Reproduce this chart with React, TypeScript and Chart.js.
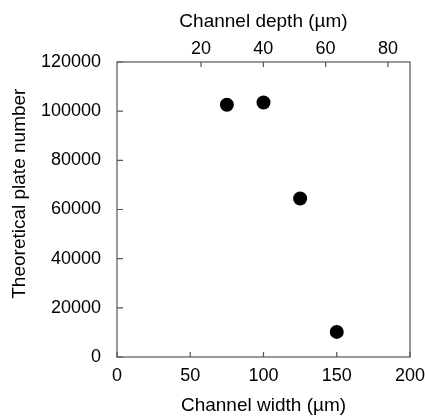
import React, { useEffect, useRef } from "react";
import { Chart, registerables } from "chart.js";

Chart.register(...registerables);

const channelWidth = [75, 100, 125, 150];
const plateNumber = [102600, 103500, 64500, 10200];
const depthTicks = [20, 40, 60, 80];

const FONT = "'Liberation Sans', Arial, sans-serif";
const FRAME = "#555555";
const FS = 18;
const TS = 19;

const framePlugin = {
  id: "frameTicks",
  afterDraw(chart: any) {
    const { ctx, chartArea } = chart;
    const { left, right, top, bottom } = chartArea;
    ctx.save();
    ctx.strokeStyle = FRAME;
    ctx.lineWidth = 1.2;
    ctx.strokeRect(left, top, right - left, bottom - top);
    const x = chart.scales.x;
    const x2 = chart.scales.x2;
    const y = chart.scales.y;
    ctx.beginPath();
    x.ticks.forEach((t: any) => {
      const p = x.getPixelForValue(t.value);
      ctx.moveTo(p, bottom);
      ctx.lineTo(p, bottom - 5);
    });
    x2.ticks.forEach((t: any) => {
      const p = x2.getPixelForValue(t.value);
      ctx.moveTo(p, top);
      ctx.lineTo(p, top + 5);
    });
    y.ticks.forEach((t: any) => {
      const p = y.getPixelForValue(t.value);
      ctx.moveTo(left, p);
      ctx.lineTo(left + 6, p);
    });
    ctx.stroke();
    ctx.restore();
  },
};

export default function App() {
  const ref = useRef<HTMLCanvasElement>(null);
  useEffect(() => {
    if (!ref.current) return;
    const chart = new Chart(ref.current, {
      type: "scatter",
      data: {
        datasets: [
          {
            data: channelWidth.map((w, i) => ({ x: w, y: plateNumber[i] })),
            backgroundColor: "#000000",
            borderColor: "#000000",
            pointRadius: 7,
            pointHoverRadius: 7,
            pointBorderWidth: 0,
          },
        ],
      },
      options: {
        responsive: false,
        animation: false,
        layout: { padding: { left: 0, right: 15, top: 0, bottom: 0 } },
        plugins: { legend: { display: false }, tooltip: { enabled: false } },
        scales: {
          x: {
            type: "linear",
            position: "bottom",
            min: 0,
            max: 200,
            grid: { display: false, drawTicks: false },
            border: { display: false },
            ticks: { stepSize: 50, color: "#000", padding: 8, font: { family: FONT, size: FS } },
            title: {
              display: true,
              text: "Channel width (\u00b5m)",
              color: "#000",
              font: { family: FONT, size: TS },
              padding: { top: 0, bottom: -1 },
            },
            afterFit: (s: any) => {
              s.height = 59;
              s.paddingLeft = 0;
              s.paddingRight = 0;
            },
          },
          x2: {
            type: "linear",
            position: "top",
            min: -7,
            max: 87.1,
            grid: { display: false, drawTicks: false },
            border: { display: false },
            ticks: { color: "#000", padding: 2, font: { family: FONT, size: FS } },
            afterBuildTicks: (s: any) => {
              s.ticks = depthTicks.map((v) => ({ value: v }));
            },
            title: {
              display: true,
              text: "Channel depth (\u00b5m)",
              color: "#000",
              font: { family: FONT, size: TS },
              padding: { top: 10, bottom: 0 },
            },
            afterFit: (s: any) => {
              s.height = 62;
              s.paddingLeft = 0;
              s.paddingRight = 0;
            },
          },
          y: {
            type: "linear",
            min: 0,
            max: 120000,
            grid: { display: false, drawTicks: false },
            border: { display: false },
            ticks: {
              stepSize: 20000,
              color: "#000",
              padding: 16,
              font: { family: FONT, size: FS },
              callback: (v: any) => String(v),
            },
            title: {
              display: true,
              text: "      Theoretical plate number",
              color: "#000",
              font: { family: FONT, size: TS },
              padding: { top: 8, bottom: 0 },
            },
            afterFit: (s: any) => {
              s.width = 117;
              s.paddingTop = 0;
              s.paddingBottom = 0;
            },
          },
        },
      },
      plugins: [framePlugin],
    });
    return () => chart.destroy();
  }, []);
  return (
    <div style={{ position: "absolute", left: 0, top: 0, width: 425, height: 416, background: "#fff" }}>
      <canvas ref={ref} width={425} height={416} />
    </div>
  );
}
